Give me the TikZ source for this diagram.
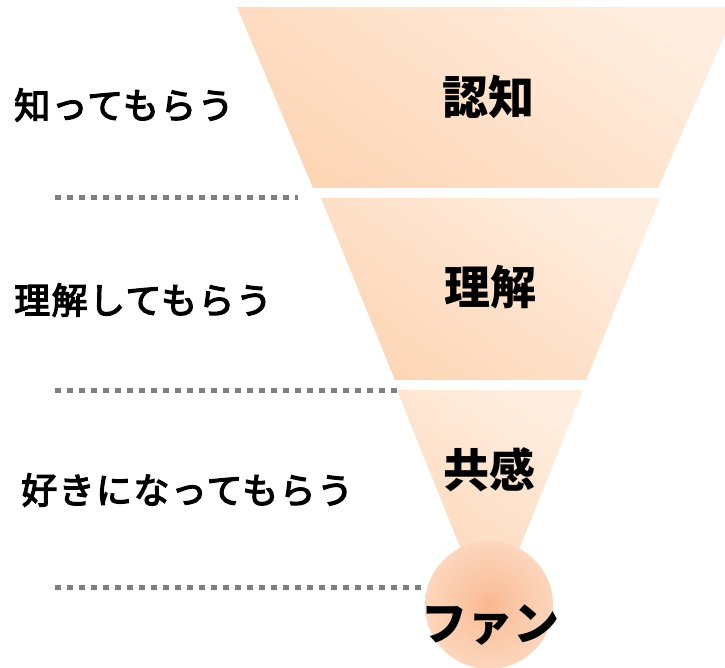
\documentclass[tikz,border=0pt]{standalone}
\usepackage{fontspec}
\newfontfamily\jp{Noto Sans CJK JP}
\newfontfamily\jpside{Noto Sans CJK JP}[FakeBold=3.5,LetterSpace=4]
\definecolor{lite}{RGB}{255,237,223}
\definecolor{dark}{RGB}{253,214,182}
\definecolor{fancore}{RGB}{249,182,140}
\definecolor{fanedge}{RGB}{253,226,208}
\definecolor{dotgray}{RGB}{128,128,128}
\pgfdeclareradialshading{fanshade}{\pgfpoint{0bp}{0bp}}{color(0bp)=(fancore); color(6bp)=(fancore!75!fanedge); color(30bp)=(fanedge!85!fancore); color(50bp)=(fanedge)}
\tikzset{
  stage/.style={shading=axis, top color=lite, bottom color=dark, shading angle=-35, draw=none},
  dotline/.style={draw=dotgray, line width=5pt, dash pattern=on 6pt off 6pt},
  centerlabel/.style={font=\jp\bfseries\fontsize{46}{50}\selectfont, inner sep=0pt},
  sidelabel/.style={font=\jpside\fontsize{36}{40}\selectfont, anchor=west, inner sep=0pt},
}
\begin{document}
\begin{tikzpicture}[x=1pt,y=-1pt]
\useasboundingbox (0,0) rectangle (725,668);
\clip (0,0) rectangle (725,668);
% funnel stages
\path[stage] (237,7) -- (737,7) -- (658,188) -- (313,188) -- cycle;
\path[stage] (321,198) -- (660,198) -- (586,380) -- (395,380) -- cycle;
\path[stage] (397,390) -- (583,390) -- (490,622) -- cycle;
\path[shading=fanshade] (489,605) circle (64);
% center labels
\node[centerlabel] (ninchi) at (488,97) {認知};
\node[centerlabel] (rikai) at (490,287) {理解};
\node[centerlabel] (kyokan) at (489,470) {共感};
\node[centerlabel] (fan) at (490,625) {ファン};
% side labels
\node[sidelabel] (l1) at (14,105) {知ってもらう};
\node[sidelabel] (l2) at (14,300) {理解してもらう};
\node[sidelabel] (l3) at (21,490) {好きになってもらう};
% dotted separators
\coordinate (d1a) at (55,197.5); \coordinate (d1b) at (298,197.5);
\coordinate (d2a) at (55,390); \coordinate (d2b) at (398,390);
\coordinate (d3a) at (55,587.5); \coordinate (d3b) at (426,587.5);
\draw[dotline] (d1a) -- (d1b);
\draw[dotline] (d2a) -- (d2b);
\draw[dotline] (d3a) -- (d3b);
\end{tikzpicture}
\end{document}
